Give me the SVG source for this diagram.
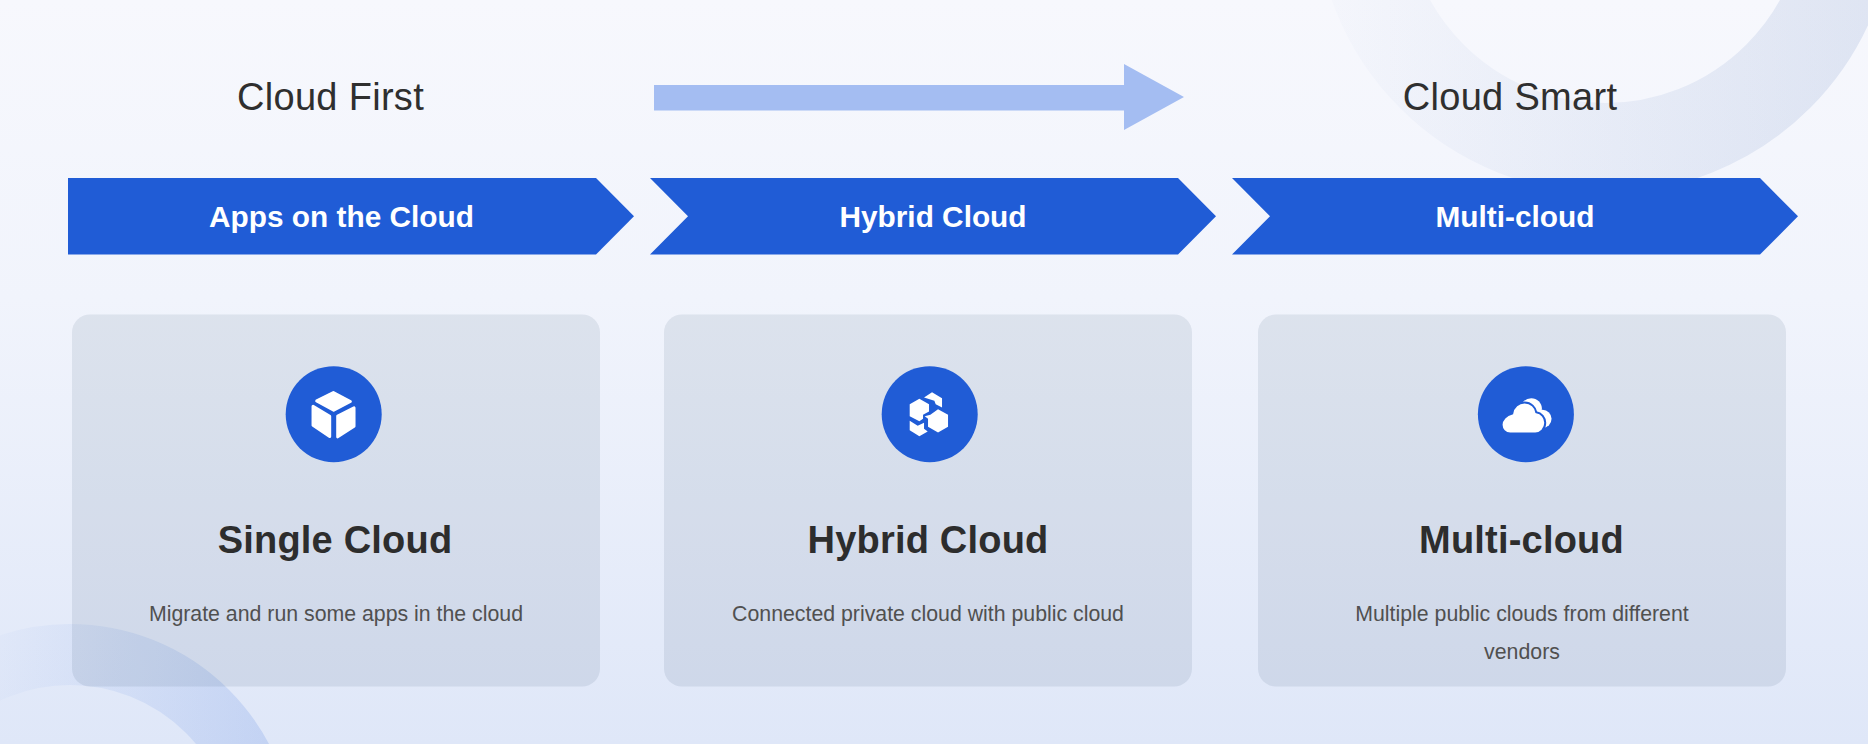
<svg xmlns="http://www.w3.org/2000/svg" width="1868" height="744" viewBox="0 0 1868 744">
<style>
text{font-family:"Liberation Sans",Arial,sans-serif;text-anchor:middle}
.head{font-size:38px;fill:#2f2f2f;letter-spacing:.3px}
.chev{fill:#205cd6}
.chevt{font-size:29.800px;font-weight:700;fill:#fff}
.card{fill:#102a50;fill-opacity:.085}
.dot{fill:#205cd6}
.ico{fill:#fff}
.title{font-size:38px;font-weight:700;fill:#2d2d2d;letter-spacing:.2px}
.desc{font-size:21.300px;fill:#505050}
</style>
<defs>
<linearGradient id="bg" x1="0" y1="0" x2="0" y2="1"><stop offset="0" stop-color="#f7f8fd"/><stop offset=".4" stop-color="#f1f4fc"/><stop offset="1" stop-color="#dfe7f8"/></linearGradient>
<linearGradient id="r1" gradientUnits="userSpaceOnUse" x1="1315" y1="0" x2="1868" y2="0"><stop offset="0" stop-color="#1c4aa0" stop-opacity=".01"/><stop offset="1" stop-color="#1c4aa0" stop-opacity=".11"/></linearGradient>
<linearGradient id="r2" gradientUnits="userSpaceOnUse" x1="0" y1="0" x2="275" y2="0"><stop offset="0" stop-color="#215dd8" stop-opacity=".02"/><stop offset="1" stop-color="#215dd8" stop-opacity=".15"/></linearGradient>
</defs>
<rect width="1868" height="744" fill="url(#bg)"/>
<circle cx="1605" cy="-97" r="245" fill="none" stroke="url(#r1)" stroke-width="90"/>
<circle cx="70" cy="849" r="194.500" fill="none" stroke="url(#r2)" stroke-width="61"/>
<g id="connectors"><path d="M654 85H1124V64L1184 97 1124 130V110.500H654Z" fill="#a4bdf2"/></g>
<g id="label-cloud-first"><text class="head" x="330.500" y="110">Cloud First</text></g>
<g id="label-cloud-smart"><text class="head" x="1510" y="110">Cloud Smart</text></g>
<g id="chevron-apps"><path class="chev" d="M68 178H596L634 216.300 596 254.500H68Z"/><text class="chevt" x="341.500" y="227">Apps on the Cloud</text></g>
<g id="chevron-hybrid"><path class="chev" d="M650 178H1178L1216 216.300 1178 254.500H650L688 216.300Z"/><text class="chevt" x="933" y="227">Hybrid Cloud</text></g>
<g id="chevron-multi"><path class="chev" d="M1232 178H1760L1798 216.300 1760 254.500H1232L1270 216.300Z"/><text class="chevt" x="1515" y="227">Multi-cloud</text></g>
<g id="card-single">
<rect class="card" x="72" y="314.500" width="528" height="372" rx="18"/>
<circle class="dot" cx="333.700" cy="414.200" r="48"/>
<g transform="translate(333.700 414.200) scale(.3333) translate(-280 -220)"><g class="ico" stroke="#fff" stroke-width="9" stroke-linejoin="round"><path d="M279 155 330 182 280 208 229 180Z"/><path d="M218 196 268 226V287L218 253Z"/><path d="M292 226 341 201V256L292 288Z"/></g></g>
<text class="title" x="335" y="553">Single Cloud</text>
<text class="desc" x="336" y="620.500">Migrate and run some apps in the cloud</text>
</g>
<g id="card-hybrid">
<rect class="card" x="664" y="314.500" width="528" height="372" rx="18"/>
<circle class="dot" cx="929.700" cy="414.200" r="48"/>
<g transform="translate(929.700 414.200) scale(.3333) translate(-298 -220)"><g class="ico"><path d="M238 190 267 174 296 190V212L278 222V234L267 241 238 226Z"/><path d="M323 205 353 222V258L323 275 293 258V234L283 226 300 222Z"/><path d="M281 170 305 154 335 172V200L316 190 312 180Z"/><path d="M238 240 262 255 281 246V264L292 272 267 286 238 268Z"/></g></g>
<text class="title" x="928" y="553">Hybrid Cloud</text>
<text class="desc" x="928" y="620.500">Connected private cloud with public cloud</text>
</g>
<g id="card-multi">
<rect class="card" x="1258" y="314.500" width="528" height="372" rx="18"/>
<circle class="dot" cx="1525.900" cy="414.200" r="48"/>
<g transform="translate(1525.900 414.200) scale(.3333) translate(-287 -220)"><g class="ico"><circle cx="303" cy="204" r="32"/><circle cx="337" cy="234" r="27"/><path d="M300 200H330V258H300Z"/><path d="M240 278C225 278 214 266 214 252 214 236 228 222 246 218 249 198 265 185 283 185 303 185 316 200 318 214 334 216 345 230 345 246 345 264 331 278 315 278Z" stroke="#205cd6" stroke-width="6"/></g></g>
<text class="title" x="1521.500" y="553">Multi-cloud</text>
<text class="desc" x="1522" y="620.500">Multiple public clouds from different</text>
<text class="desc" x="1522" y="658.500">vendors</text>
</g>
</svg>
